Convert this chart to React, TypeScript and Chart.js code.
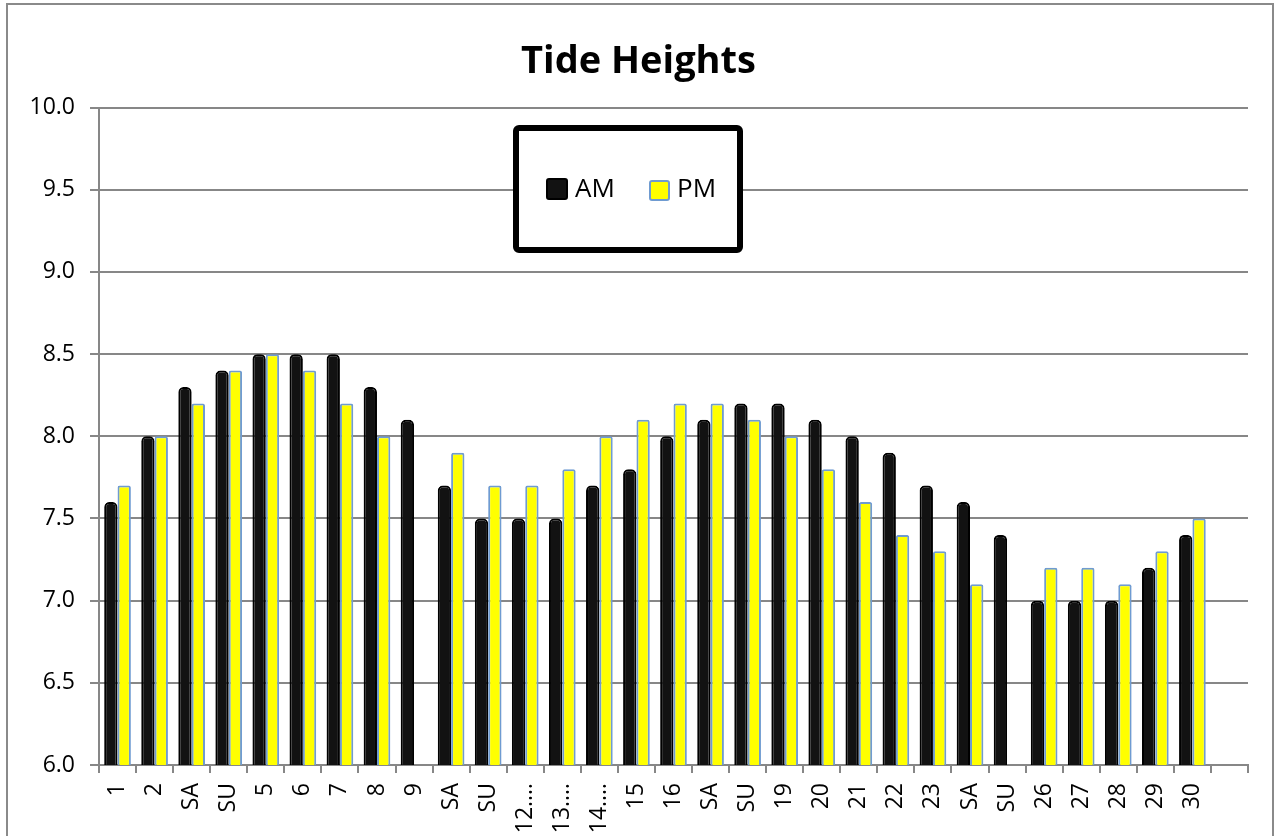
import React, { useEffect, useRef } from "react";
import { Chart, registerables } from "chart.js";

Chart.register(...registerables);

const categories = ["1", "2", "SA", "SU", "5", "6", "7", "8", "9", "SA", "SU", "12.…", "13.…", "14.…", "15", "16", "SA", "SU", "19", "20", "21", "22", "23", "SA", "SU", "26", "27", "28", "29", "30", ""];
const amValues = [7.6, 8.0, 8.3, 8.4, 8.5, 8.5, 8.5, 8.3, 8.1, 7.7, 7.5, 7.5, 7.5, 7.7, 7.8, 8.0, 8.1, 8.2, 8.2, 8.1, 8.0, 7.9, 7.7, 7.6, 7.4, 7.0, 7.0, 7.0, 7.2, 7.4, null];
const pmValues = [7.7, 8.0, 8.2, 8.4, 8.5, 8.4, 8.2, 8.0, null, 7.9, 7.7, 7.7, 7.8, 8.0, 8.1, 8.2, 8.2, 8.1, 8.0, 7.8, 7.6, 7.4, 7.3, 7.1, null, 7.2, 7.2, 7.1, 7.3, 7.5, null];
const seriesNames = ["AM", "PM"];
const yMin = 6.0;
const yMax = 10.0;
const yStep = 0.5;

const FONT = "'Open Sans', 'DejaVu Sans', sans-serif";
const GRID = "#878787";

const frame = {
  id: "frame",
  beforeDraw(chart: any) {
    const ctx = chart.ctx;
    ctx.save();
    ctx.fillStyle = "#ffffff";
    ctx.fillRect(0, 0, chart.width, chart.height);
    ctx.strokeStyle = "#8a8a8a";
    ctx.lineWidth = 2;
    ctx.strokeRect(7, 4, 1266, chart.height + 20);
    ctx.restore();
  },
};

const boxLegend = {
  id: "boxLegend",
  afterDraw(chart: any) {
    const ctx = chart.ctx;
    ctx.save();
    ctx.lineWidth = 6;
    ctx.strokeStyle = "#000";
    ctx.fillStyle = "#fff";
    ctx.beginPath();
    (ctx as any).roundRect(516, 128, 224, 122, 3);
    ctx.fill();
    ctx.stroke();

    const items = [
      { sx: 546, sy: 178, s: 22, tx: 575 },
      { sx: 649, sy: 180, s: 21, tx: 677 },
    ];
    chart.data.datasets.forEach((ds: any, i: number) => {
      const it = items[i];
      ctx.fillStyle = ds.backgroundColor;
      ctx.strokeStyle = ds.borderColor;
      ctx.lineWidth = 2;
      ctx.beginPath();
      (ctx as any).roundRect(it.sx + 1, it.sy + 1, it.s - 2, it.s - 2, 2);
      ctx.fill();
      ctx.stroke();
      ctx.fillStyle = "#000";
      ctx.font = `26px ${FONT}`;
      ctx.textBaseline = "middle";
      ctx.textAlign = "left";
      ctx.fillText(ds.label, it.tx, 190);
    });
    ctx.restore();
  },
};

export default function App() {
  const ref = useRef<HTMLCanvasElement | null>(null);

  useEffect(() => {
    if (!ref.current) return;
    const chart = new Chart(ref.current, {
      type: "bar",
      data: {
        labels: categories,
        datasets: [
          {
            label: seriesNames[0],
            data: amValues,
            backgroundColor: "#121212",
            borderColor: "#000000",
            borderWidth: 2,
            borderRadius: { topLeft: 5, topRight: 5, bottomLeft: 0, bottomRight: 0 },
            borderSkipped: "bottom",
            categoryPercentage: 0.72,
            barPercentage: 1.0,
          },
          {
            label: seriesNames[1],
            data: pmValues,
            backgroundColor: "#FFFF00",
            borderColor: "#6F9BD1",
            borderWidth: 2,
            borderRadius: { topLeft: 2, topRight: 2, bottomLeft: 0, bottomRight: 0 },
            borderSkipped: "bottom",
            categoryPercentage: 0.72,
            barPercentage: 1.0,
          },
        ],
      },
      options: {
        responsive: false,
        animation: false,
        layout: { padding: { left: 0, right: 0, top: 0, bottom: 0 } },
        plugins: {
          legend: { display: false },
          tooltip: { enabled: false },
          title: {
            display: true,
            text: "Tide Heights",
            color: "#000",
            font: { family: FONT, size: 38, weight: "bold", lineHeight: 1.2 },
            padding: { top: 39, bottom: 23 },
          },
        },
        scales: {
          x: {
            offset: true,
            grid: {
              display: true,
              drawOnChartArea: false,
              drawTicks: true,
              tickLength: 8,
              color: GRID,
              lineWidth: 2,
              offset: true,
            },
            border: { display: true, color: GRID, width: 2 },
            ticks: {
              autoSkip: false,
              minRotation: 90,
              maxRotation: 90,
              padding: 10,
              color: "#000",
              font: { family: FONT, size: 23 },
            },
            afterFit(scale: any) {
              scale.height = 71;
              scale.paddingRight = 29;
            },
          },
          y: {
            min: yMin,
            max: yMax,
            grid: {
              color: GRID,
              lineWidth: 2,
              drawTicks: true,
              tickLength: 9,
            },
            border: { display: true, color: GRID, width: 2 },
            ticks: {
              stepSize: yStep,
              padding: 15,
              color: "#000",
              font: { family: FONT, size: 23 },
              callback: (v: any) => Number(v).toFixed(1),
            },
            afterFit(scale: any) {
              scale.width = 99;
            },
          },
        },
      },
      plugins: [frame, boxLegend],
    });
    return () => chart.destroy();
  }, []);

  return (
    <div style={{ position: "absolute", left: 0, top: 0, width: 1277, height: 836 }}>
      <canvas ref={ref} width={1277} height={836} style={{ display: "block" }} />
    </div>
  );
}
